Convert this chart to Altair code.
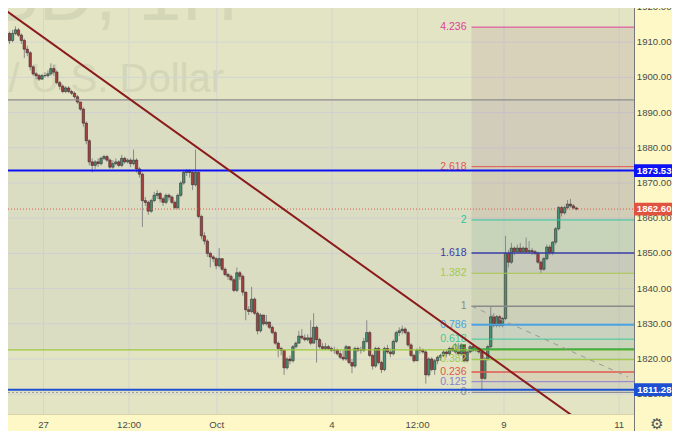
import altair as alt
import pandas as pd

# ---------------- data ----------------
first_open = 1910.0
closes = [1912.5, 1910.5, 1912.5, 1913.5, 1912, 1910.5, 1908, 1907, 1903, 1901,
          1900.5, 1899.5, 1900.5, 1900.5, 1901, 1902.5, 1901.5, 1898.5, 1897.5, 1896,
          1897, 1896, 1895.5, 1894.5, 1893, 1891, 1887, 1882, 1876, 1875,
          1876, 1875.5, 1877, 1877.5, 1876.5, 1874.5, 1875.5, 1876, 1875, 1877,
          1876, 1876.5, 1875.5, 1876.5, 1874, 1872.5, 1865, 1864.5, 1862, 1865,
          1866.5, 1867, 1865.5, 1864.5, 1866.5, 1866, 1864.5, 1863, 1866.5, 1870,
          1873, 1873.5, 1873, 1869.5, 1873, 1860.5, 1855, 1853.5, 1850, 1849,
          1848.5, 1846.5, 1848.5, 1845.5, 1844, 1843.5, 1842.5, 1839.5, 1844.5, 1843.5,
          1839, 1834, 1833.5, 1837, 1833, 1828, 1832.5, 1830, 1830.5, 1829,
          1827.5, 1824.5, 1823, 1822.5, 1817.5, 1820, 1819.5, 1823.5, 1824.5, 1826.5,
          1826, 1825.5, 1826, 1824.5, 1829, 1825.5, 1823.5, 1823, 1823.5, 1823,
          1822.5, 1822.5, 1821.5, 1820.5, 1820, 1823.5, 1819, 1818, 1823, 1822.5,
          1822.5, 1825, 1827.5, 1821, 1818, 1823, 1819, 1817, 1823, 1822,
          1821.5, 1825, 1827.5, 1828, 1828.5, 1827.5, 1824, 1821, 1819.5, 1822.5,
          1822.5, 1822, 1815.5, 1820, 1817, 1819.5, 1820.5, 1821, 1822, 1821.5,
          1823, 1822.5, 1822, 1821.5, 1824, 1819.5, 1822, 1823.5, 1822.5, 1823,
          1822, 1814.5, 1820, 1823.5, 1832, 1829.5, 1832, 1829.5, 1831.5, 1850,
          1847.5, 1851.5, 1850.5, 1851.5, 1850.5, 1851.5, 1850.5, 1850.8, 1850.5, 1850,
          1847.5, 1845.5, 1848.5, 1851.8, 1850.2, 1853.2, 1857, 1863, 1861.5, 1863,
          1864, 1863.5, 1862.9, 1862.6]
highs = [1913.5, 1913, 1913.5, 1914.5, 1914, 1912.5, 1911, 1909, 1907.5, 1903.5,
         1901.5, 1901, 1901, 1901.5, 1902, 1904, 1903.5, 1902, 1899, 1898,
         1897.5, 1897.5, 1896.5, 1896, 1895, 1893, 1891.5, 1887.5, 1882.5, 1877,
         1876.5, 1877, 1877.5, 1878, 1878, 1877, 1876.5, 1877, 1876.5, 1878,
         1877.5, 1877, 1877, 1879.5, 1877, 1874.5, 1873, 1866, 1865, 1865.5,
         1867.5, 1868, 1867.5, 1866, 1867, 1867, 1866.5, 1865, 1867, 1870.5,
         1873.5, 1874, 1874, 1873.5, 1879.5, 1873.5, 1861, 1856, 1854, 1850.5,
         1849.5, 1849, 1851.5, 1848.5, 1846, 1844.5, 1844, 1843, 1846, 1845,
         1844, 1839, 1835, 1840.5, 1837.5, 1833.5, 1833, 1832.5, 1832.5, 1830.5,
         1829.5, 1828, 1825, 1823.5, 1822.5, 1820.5, 1821, 1824, 1825, 1828,
         1828.5, 1827, 1827, 1831, 1833, 1829.5, 1826, 1824.5, 1824.5, 1824,
         1823.5, 1823.5, 1823, 1822.5, 1822.5, 1824, 1823.5, 1820, 1823.5, 1823.5,
         1823.5, 1826, 1831, 1828, 1821.5, 1823.5, 1823.5, 1819.5, 1823.5, 1824,
         1823, 1825.5, 1828, 1829, 1829.5, 1829, 1828, 1824.5, 1821.5, 1823,
         1823.5, 1823, 1822.5, 1820.5, 1820.5, 1820, 1821, 1821.5, 1822.5, 1822.5,
         1823.5, 1823.5, 1824.5, 1824.5, 1824.5, 1824, 1822.5, 1824, 1824, 1823.5,
         1823.5, 1822.5, 1820.5, 1824, 1835, 1833, 1832.5, 1832.5, 1832, 1855,
         1851, 1853, 1852, 1852.5, 1853, 1852, 1854.5, 1853.5, 1851.5, 1851,
         1850.5, 1848, 1849, 1852.5, 1852.5, 1853.5, 1857.5, 1863.5, 1863.5, 1863.5,
         1865.2, 1865.5, 1864, 1863.2]
lows = [1909, 1909.5, 1910, 1912, 1911.5, 1909.5, 1905.5, 1906, 1902, 1900.5,
        1899.5, 1899, 1899.5, 1900, 1900, 1900.5, 1900.5, 1898, 1896.5, 1895.5,
        1895.5, 1895.5, 1895, 1894, 1892.5, 1890.5, 1886, 1881, 1875, 1873,
        1874, 1874.5, 1875, 1876.5, 1876, 1874, 1874, 1875, 1874.5, 1874.5,
        1875.5, 1875.5, 1874.5, 1875, 1873, 1871.5, 1857.5, 1863.5, 1861, 1861.5,
        1864.5, 1865.5, 1864.5, 1863.5, 1864, 1865, 1864, 1862.5, 1862.5, 1866,
        1869.5, 1872, 1871.5, 1868, 1869, 1860, 1854, 1852.5, 1849, 1846,
        1847.5, 1845.5, 1846, 1845, 1843.5, 1842.5, 1842, 1839, 1839, 1842.5,
        1838, 1831, 1832.5, 1833, 1832.5, 1827, 1827.5, 1829.5, 1829.5, 1828.5,
        1827, 1824, 1820.5, 1821, 1815.5, 1817, 1818.5, 1819, 1823, 1824.5,
        1825.5, 1825, 1825, 1824, 1824.5, 1819, 1823, 1822.5, 1822.5, 1822.5,
        1822, 1821.5, 1821, 1820, 1819.5, 1819.5, 1818.5, 1816, 1817.5, 1822,
        1821.5, 1822, 1824.5, 1820.5, 1817, 1817.5, 1818.5, 1816, 1816.5, 1821.5,
        1820.5, 1821, 1824.5, 1826.5, 1827, 1827, 1823.5, 1820.5, 1819, 1819.5,
        1821.5, 1821.5, 1813, 1815, 1816.5, 1815.5, 1818.5, 1819.5, 1820.5, 1820.5,
        1821, 1822, 1821.5, 1821, 1821, 1819, 1819, 1821.5, 1822, 1822,
        1821.5, 1811.3, 1814, 1819.5, 1823, 1829, 1829, 1829, 1829, 1831,
        1846, 1847, 1849.5, 1850, 1850, 1850, 1850, 1850, 1849.5, 1849.5,
        1847, 1844.4, 1845, 1848, 1849.5, 1849.5, 1852.5, 1856.5, 1860.5, 1861,
        1862.5, 1863, 1862.5, 1862.2]

time_tick_bars = [12.5, 41.5, 71.2, 110.2, 139.2, 168.5, 207.5]
time_tick_labels = ["27", "12:00", "Oct", "4", "12:00", "9", "11"]
price_ticks = [1810, 1820, 1830, 1840, 1850, 1860, 1870, 1880, 1890, 1900, 1910, 1920]

fib_low = 1810.5
fib_high = 1835.0
fib_start_bar = 157.5
fib_ratios = [0, 0.125, 0.236, 0.382, 0.5, 0.618, 0.786, 1, 1.382, 1.618, 2, 2.618, 4.236]
fib_names = ["0", "0.125", "0.236", "0.382", "0.5", "0.618", "0.786", "1",
             "1.382", "1.618", "2", "2.618", "4.236"]

trend_bars = [-0.5, 191.8]
trend_prices = [1919.15, 1803.8]
fib_dash_bars = [157.5, 210.5]
fib_dash_prices = [1835.0, 1814.9]

rect_top = 1893.6
rect_bottom = 1822.6
blue_level_hi = 1873.53
blue_level_lo = 1811.28
last_price = 1862.60
dotted_grey_level = 1810.5

# ---------------- styles ----------------
fib_colors = ["#8a8d94", "#8c7fd0", "#e0574f", "#a5c84e", "#43ad3e", "#3cc79a",
              "#4aa3df", "#8a8a8a", "#a5c84e", "#3b3ba6", "#2ec4a0", "#e0574f", "#e0409a"]
fib_widths = [1, 1, 1.5, 1.5, 2, 1, 2, 1.5, 1, 1.5, 1, 1, 1]

# The page adds an 8px margin, so the chart shows the reference from (8, 8) on
# and is kept to 664 px wide so that the page never overflows sideways.
W, H = 626, 406
RIGHT, BOTTOM = 38, 17
FONT = "Liberation Sans"
AXIS_FS = 9.6

XS = alt.Scale(domain=[2.1667, 210.8333], nice=False, zero=False)
YS = alt.Scale(domain=[1804.375, 1919.716], nice=False, zero=False)


def X(f):
    return alt.X(f, type="quantitative", scale=XS, axis=None)


def Y(f):
    return alt.Y(f, type="quantitative", scale=YS, axis=None)


# ---------------- frames ----------------
candles = pd.DataFrame({"bar": list(range(len(closes))), "close": closes,
                        "high": highs, "low": lows})
candles["open"] = [first_open] + closes[:-1]
candles["high"] = candles[["high", "open", "close"]].max(axis=1)
candles["low"] = candles[["low", "open", "close"]].min(axis=1)

span = fib_high - fib_low
fib = pd.DataFrame({"ratio": fib_ratios, "name": fib_names, "color": fib_colors,
                    "w": fib_widths})
fib["p"] = fib_low + fib["ratio"] * span
fib["x0"] = fib_start_bar
bands = pd.DataFrame({"lo": fib["p"].values[:-1], "hi": fib["p"].values[1:],
                      "color": fib["color"].values[1:], "x0": fib_start_bar})

layers = []

# watermark
wm1 = alt.Chart(pd.DataFrame({"t": ["XAUUSD, 1H"]})).mark_text(
    align="right", baseline="alphabetic", fontSize=78, font=FONT, color="#d4d6b8", clip=True
).encode(text="t:N", x=alt.value(230), y=alt.value(12))
wm2 = alt.Chart(pd.DataFrame({"t": ["Gold / U.S. Dollar"]})).mark_text(
    align="right", baseline="alphabetic", fontSize=40, font=FONT, color="#d4d6b8", clip=True
).encode(text="t:N", x=alt.value(216), y=alt.value(84))
layers += [wm1, wm2]

# grid
hgrid = alt.Chart(pd.DataFrame({"p": price_ticks})).mark_rule(
    color="#d2d6d4", strokeWidth=1, clip=True
).encode(y=Y("p"), x=alt.value(0), x2=alt.value(W))
vgrid = alt.Chart(pd.DataFrame({"bar": time_tick_bars})).mark_rule(
    color="#d2d6d4", strokeWidth=1, clip=True
).encode(x=X("bar"), y=alt.value(0), y2=alt.value(H))
layers += [hgrid, vgrid]

# grey rectangle band
band = alt.Chart(pd.DataFrame({"top": [rect_top], "bottom": [rect_bottom]})).mark_rect(
    color="#a9adbd", opacity=0.12, clip=True
).encode(y=Y("top"), y2=alt.Y2("bottom"), x=alt.value(0), x2=alt.value(W))
layers.append(band)

# fib backgrounds: grey wash plus faint level tints
fibwash = alt.Chart(pd.DataFrame({"lo": [fib_low], "hi": [fib_low + 4.236 * span],
                                  "x0": [fib_start_bar]})).mark_rect(
    color="#7f8590", opacity=0.09, clip=True).encode(
    x=X("x0"), x2=alt.value(W), y=Y("lo"), y2=alt.Y2("hi"))
fibbg = alt.Chart(bands).mark_rect(opacity=0.06, clip=True).encode(
    x=X("x0"), x2=alt.value(W), y=Y("lo"), y2=alt.Y2("hi"),
    fill=alt.Fill("color:N", scale=None))
layers += [fibwash, fibbg]

# candles
wicks = alt.Chart(candles).mark_rule(color="#8a8a8a", strokeWidth=1, clip=True).encode(
    x=X("bar"), y=Y("low"), y2=alt.Y2("high"))
bodies = alt.Chart(candles).mark_bar(size=2.4, stroke="#3a2e2b", strokeWidth=0.6, clip=True).encode(
    x=X("bar"), y=Y("open"), y2=alt.Y2("close"),
    fill=alt.condition("datum.close >= datum.open", alt.value("#45937a"), alt.value("#a63f3f")))
layers += [wicks, bodies]


def hline(price, color, width, dash=None):
    kw = dict(color=color, strokeWidth=width, clip=True)
    if dash:
        kw["strokeDash"] = dash
    return alt.Chart(pd.DataFrame({"p": [price]})).mark_rule(**kw).encode(
        y=Y("p"), x=alt.value(0), x2=alt.value(W))


layers += [
    hline(rect_top, "#8c8c8c", 1.2),
    hline(rect_bottom, "#9cc93a", 1.2),
    hline(dotted_grey_level, "#9a9a9a", 1, [2, 2]),
    hline(last_price, "#d9574c", 1, [1, 2]),
]

# fib lines
fiblines = alt.Chart(fib).mark_rule(clip=True).encode(
    x=X("x0"), x2=alt.value(W), y=Y("p"),
    color=alt.Color("color:N", scale=None),
    strokeWidth=alt.StrokeWidth("w:Q", scale=None))
fiblabels = alt.Chart(fib).mark_text(align="right", baseline="middle", dx=-5,
                                     fontSize=10.5, font=FONT).encode(
    x=X("x0"), y=Y("p"), text="name:N", color=alt.Color("color:N", scale=None))
fibdash = alt.Chart(pd.DataFrame({"bar": fib_dash_bars, "p": fib_dash_prices})).mark_line(
    color="#999999", strokeWidth=1, strokeDash=[5, 5], clip=True).encode(x=X("bar"), y=Y("p"))
layers += [fiblines, fibdash, fiblabels]

layers += [
    hline(blue_level_hi, "#0d12f5", 2),
    hline(blue_level_lo, "#1c4fd1", 2),
]

# trend line
trend = alt.Chart(pd.DataFrame({"bar": trend_bars, "p": trend_prices})).mark_line(
    color="#8b1c1c", strokeWidth=2, clip=True).encode(x=X("bar"), y=Y("p"))
layers.append(trend)

# axes frame
layers.append(alt.Chart(pd.DataFrame({"a": [0]})).mark_rule(color="#777777", strokeWidth=1).encode(
    x=alt.value(W + 0.5), y=alt.value(0), y2=alt.value(H + BOTTOM)))
layers.append(alt.Chart(pd.DataFrame({"a": [0]})).mark_rule(color="#d6d3a8", strokeWidth=1).encode(
    x=alt.value(0), x2=alt.value(W), y=alt.value(H + 0.5)))

# price axis labels
ylabels = alt.Chart(pd.DataFrame({"p": price_ticks})).mark_text(
    align="right", baseline="middle", fontSize=AXIS_FS, font=FONT, color="#4a4a4a").encode(
    y=Y("p"), x=alt.value(W + 37.5), text=alt.Text("p:Q", format=".2f"))
layers.append(ylabels)

# price tags
tags = pd.DataFrame({"p": [blue_level_hi, last_price, blue_level_lo],
                     "color": ["#0d12f5", "#e0533f", "#1c4fd1"]})
tagrect = alt.Chart(tags).transform_calculate(lo="datum.p - 1.8", hi="datum.p + 1.8").mark_rect().encode(
    x=alt.value(W), x2=alt.value(W + 42), y=Y("lo:Q"), y2=alt.Y2("hi:Q"),
    fill=alt.Fill("color:N", scale=None))
tagtext = alt.Chart(tags).mark_text(align="right", baseline="middle", fontSize=AXIS_FS,
                                    font=FONT, fontWeight="bold", color="white").encode(
    y=Y("p"), x=alt.value(W + 37.5), text=alt.Text("p:Q", format=".2f"))
layers += [tagrect, tagtext]

# time axis labels
xlabels = alt.Chart(pd.DataFrame({"bar": time_tick_bars, "t": time_tick_labels})).mark_text(
    align="center", baseline="middle", fontSize=AXIS_FS, font=FONT, color="#4a4a4a").encode(
    x=X("bar"), y=alt.value(H + 11), text="t:N")
layers.append(xlabels)

gear = alt.Chart(pd.DataFrame({"t": ["\u2699"]})).mark_text(
    align="center", baseline="middle", fontSize=15, font="DejaVu Sans", color="#555555").encode(
    x=alt.value(W + 23), y=alt.value(H + 10), text="t:N")
layers.append(gear)

chart = alt.layer(*layers).properties(
    width=W, height=H,
    autosize=alt.AutoSizeParams(type="none"),
    padding={"left": 0, "top": 0, "right": RIGHT, "bottom": BOTTOM},
    background="#fdf8c6",
).configure_view(fill="#e2e4c3", strokeWidth=0)

chart.save("out.html", embed_options={"renderer": "svg", "actions": False})
